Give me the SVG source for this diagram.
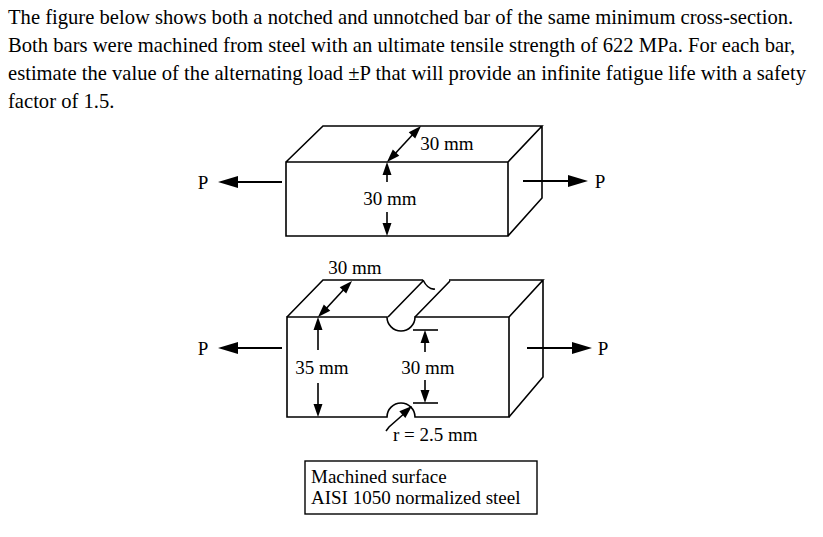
<svg xmlns="http://www.w3.org/2000/svg" width="823" height="537" viewBox="0 0 823 537">
<style>
.t{font-family:"Liberation Serif",serif;font-size:20.6px;fill:#000}
.l{font-family:"Liberation Serif",serif;font-size:19px;fill:#000}
.s{fill:none;stroke:#000;stroke-width:1.6}
.b{fill:none;stroke:#000;stroke-width:2.2}
.h{fill:#000;stroke:none}
</style>
<defs>
<path id="hb" d="M0,0 L-20,-6 L-20,6 Z"/>
<path id="hs" d="M0,0 L-13,-4.5 L-13,4.5 Z"/>
</defs>
<rect width="823" height="537" fill="#fff"/>
<g id="problem">
<text class="t" x="8" y="24">The figure below shows both a notched and unnotched bar of the same minimum cross-section.</text>
<text class="t" x="8" y="52">Both bars were machined from steel with an ultimate tensile strength of 622 MPa.  For each bar,</text>
<text class="t" x="8" y="80">estimate the value of the alternating load ±P that will provide an infinite fatigue life with a safety</text>
<text class="t" x="8" y="108">factor of 1.5.</text>
</g>
<g id="bar1">
<path class="s" d="M286,162 H508 V236 H286 Z M286,162 L323,126 H542 L508,162 M542,126 V198 L508,236"/>
</g>
<g id="bar2">
<path class="s" d="M287,317 H387 A14,14 0 0 0 415,317 H509 V417 H415 A14,14 0 0 0 387,417 H287 Z"/>
<path class="s" d="M287,317 L323,280 H423 M388,317 L423,281 M415,317 L450,281 M449,280 H543 L509,317 M543,280 V377 L509,417"/>
<path class="s" d="M423,280 Q428,290 435,289"/>
</g>
<g id="box">
<rect x="305" y="461" width="232" height="53" fill="none" stroke="#000" stroke-width="1.4"/>
<text class="l" x="311" y="483">Machined surface</text>
<text class="l" x="311" y="504">AISI 1050 normalized steel</text>
</g>
<g id="connectors">
<line class="b" x1="282" y1="182" x2="232" y2="182"/><use href="#hb" class="h" transform="translate(218,182) rotate(180)"/>
<line class="b" x1="523" y1="181" x2="575" y2="181"/><use href="#hb" class="h" transform="translate(588,181)"/>
<line class="b" x1="282" y1="348" x2="232" y2="348"/><use href="#hb" class="h" transform="translate(218,348) rotate(180)"/>
<line class="b" x1="527" y1="348" x2="579" y2="348"/><use href="#hb" class="h" transform="translate(592,348)"/>
<line class="s" x1="392" y1="157" x2="416" y2="131"/>
<use href="#hs" class="h" transform="translate(387,162) rotate(134)"/>
<use href="#hs" class="h" transform="translate(421,126) rotate(-46)"/>
<line class="s" x1="387" y1="182" x2="387" y2="170"/><use href="#hs" class="h" transform="translate(387,162) rotate(-90)"/>
<line class="s" x1="387" y1="212" x2="387" y2="228"/><use href="#hs" class="h" transform="translate(387,236) rotate(90)"/>
<line class="s" x1="323" y1="312" x2="347" y2="286"/>
<use href="#hs" class="h" transform="translate(318,317) rotate(134)"/>
<use href="#hs" class="h" transform="translate(352,281) rotate(-46)"/>
<line class="s" x1="318" y1="350" x2="318" y2="325"/><use href="#hs" class="h" transform="translate(318,317) rotate(-90)"/>
<line class="s" x1="318" y1="383" x2="318" y2="409"/><use href="#hs" class="h" transform="translate(318,417) rotate(90)"/>
<line class="s" x1="413" y1="330" x2="438" y2="330"/>
<line class="s" x1="413" y1="403" x2="438" y2="403"/>
<line class="s" x1="425" y1="352" x2="425" y2="338"/><use href="#hs" class="h" transform="translate(425,330) rotate(-90)"/>
<line class="s" x1="425" y1="380" x2="425" y2="395"/><use href="#hs" class="h" transform="translate(425,403) rotate(90)"/>
<path class="s" d="M386,431 L389,427 L406,412"/><use href="#hs" class="h" transform="translate(412,406) rotate(-42)"/>
</g>
<g id="labels">
<text class="l" x="203" y="189" text-anchor="middle">P</text>
<text class="l" x="600" y="188" text-anchor="middle">P</text>
<text class="l" x="203" y="355" text-anchor="middle">P</text>
<text class="l" x="603" y="355" text-anchor="middle">P</text>
<text class="l" x="447" y="150" text-anchor="middle">30 mm</text>
<text class="l" x="390" y="205" text-anchor="middle">30 mm</text>
<text class="l" x="355" y="274" text-anchor="middle">30 mm</text>
<text class="l" x="322" y="374" text-anchor="middle">35 mm</text>
<text class="l" x="428" y="374" text-anchor="middle">30 mm</text>
<text class="l" x="393" y="441">r = 2.5 mm</text>
</g>
</svg>
